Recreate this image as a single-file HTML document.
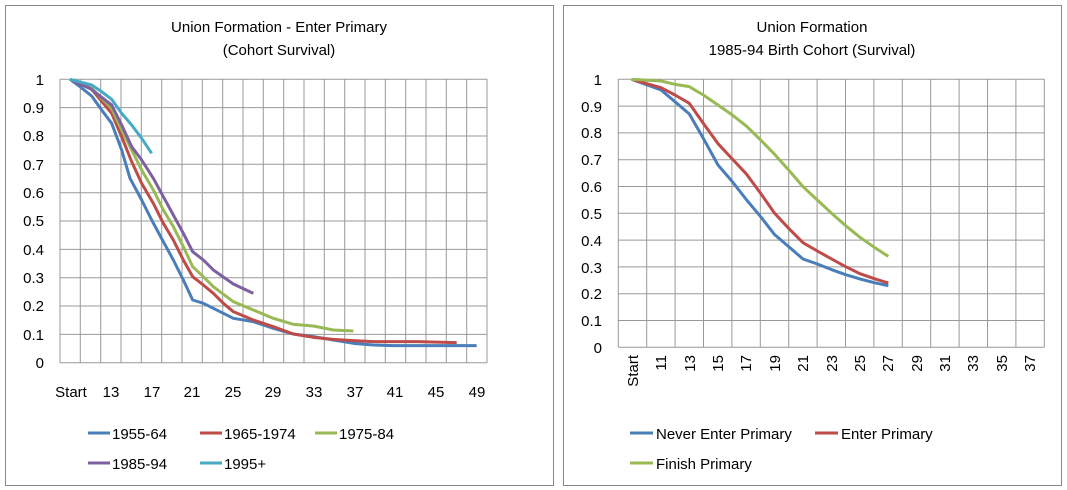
<!DOCTYPE html>
<html><head><meta charset="utf-8"><style>
body{margin:0;background:#fff;}
svg{display:block;font-family:"Liberation Sans",sans-serif;}
</style></head><body>
<svg width="1067" height="490" viewBox="0 0 1067 490">
<rect width="1067" height="490" fill="#fff"/>
<rect x="5.5" y="5.5" width="548" height="480" fill="#fff" stroke="#888"/>
<rect x="563.5" y="5.5" width="498" height="480" fill="#fff" stroke="#888"/>
<g font-size="15" fill="#000" text-anchor="middle">
<text x="279" y="32">Union Formation - Enter Primary</text>
<text x="279" y="55">(Cohort Survival)</text>
<text x="812" y="32">Union Formation</text>
<text x="812" y="55">1985-94 Birth Cohort (Survival)</text>
</g>
<g stroke="#999" stroke-width="1">
<path d="M60 79.3H487M60 107.6H487M60 136H487M60 164.3H487M60 192.7H487M60 221H487M60 249.4H487M60 277.7H487M60 306H487M60 334.4H487M60 362.7H487"/>
<path d="M60 79V363M80.3 79V363M100.7 79V363M121 79V363M141.3 79V363M161.7 79V363M182 79V363M202.3 79V363M222.7 79V363M243 79V363M263.3 79V363M283.7 79V363M304 79V363M324.3 79V363M344.7 79V363M365 79V363M385.3 79V363M405.7 79V363M426 79V363M446.3 79V363M466.7 79V363M487 79V363"/>
</g>
<g font-size="15" text-anchor="end">
<text x="44" y="85">1</text><text x="44" y="113">0.9</text><text x="44" y="141">0.8</text><text x="44" y="170">0.7</text><text x="44" y="198">0.6</text><text x="44" y="226">0.5</text><text x="44" y="255">0.4</text><text x="44" y="283">0.3</text><text x="44" y="311">0.2</text><text x="44" y="340">0.1</text><text x="44" y="368">0</text>
</g>
<g font-size="15" text-anchor="middle">
<text x="71" y="397">Start</text><text x="111" y="397">13</text><text x="152" y="397">17</text><text x="192" y="397">21</text><text x="233" y="397">25</text><text x="273" y="397">29</text><text x="314" y="397">33</text><text x="355" y="397">37</text><text x="395" y="397">41</text><text x="436" y="397">45</text><text x="477" y="397">49</text>
</g>
<g transform="translate(0,60) scale(0.33333)" fill="none" stroke-width="9" stroke-linejoin="round">
<polyline stroke="#4A7EBB" points="210,58 240,80 275,108 305,150 335,190 365,270 390,355 425,420 455,480 490,545 520,600 550,660 578,720 610,730 640,745 700,775 760,785 790,795 820,805 880,822 940,830 1000,840 1060,850 1120,855 1180,857 1430,857"/>
<polyline stroke="#BE4B48" points="210,58 275,88 335,160 365,230 395,305 425,370 460,430 490,490 520,540 550,600 578,650 610,675 640,700 670,730 700,755 760,780 820,800 880,822 940,832 1000,838 1060,842 1120,845 1250,845 1370,848"/>
<polyline stroke="#98B954" points="210,58 275,85 335,145 365,210 395,270 425,330 460,390 490,450 520,500 550,560 578,620 610,650 640,680 700,725 760,750 820,775 880,793 940,798 1000,810 1060,813"/>
<polyline stroke="#7D60A0" points="210,58 270,85 335,135 365,195 395,260 425,300 460,355 490,410 520,465 550,520 578,575 610,600 640,630 700,672 760,700"/>
<polyline stroke="#46AAC5" points="210,58 275,75 305,95 335,118 365,160 395,195 425,235 455,280"/>
</g>
<g stroke-width="3">
<line x1="88" y1="433" x2="110" y2="433" stroke="#4A7EBB"/>
<line x1="200" y1="433" x2="222" y2="433" stroke="#BE4B48"/>
<line x1="315" y1="433" x2="337" y2="433" stroke="#98B954"/>
<line x1="88" y1="463" x2="110" y2="463" stroke="#7D60A0"/>
<line x1="200" y1="463" x2="222" y2="463" stroke="#46AAC5"/>
</g>
<g font-size="15">
<text x="112" y="439">1955-64</text><text x="224" y="439">1965-1974</text><text x="339" y="439">1975-84</text>
<text x="112" y="469">1985-94</text><text x="224" y="469">1995+</text>
</g>
<g stroke="#999" stroke-width="1">
<path d="M618.3 79.3H1044.3M618.3 106.1H1044.3M618.3 132.9H1044.3M618.3 159.7H1044.3M618.3 186.5H1044.3M618.3 213.3H1044.3M618.3 240.1H1044.3M618.3 266.9H1044.3M618.3 293.7H1044.3M618.3 320.5H1044.3M618.3 347.3H1044.3"/>
<path d="M618.3 79V347M646.7 79V347M675.1 79V347M703.5 79V347M731.9 79V347M760.3 79V347M788.7 79V347M817.1 79V347M845.5 79V347M873.9 79V347M902.3 79V347M930.7 79V347M959.1 79V347M987.5 79V347M1015.9 79V347M1044.3 79V347"/>
</g>
<g font-size="15" text-anchor="end">
<text x="602" y="85">1</text><text x="602" y="112">0.9</text><text x="602" y="138">0.8</text><text x="602" y="165">0.7</text><text x="602" y="192">0.6</text><text x="602" y="219">0.5</text><text x="602" y="246">0.4</text><text x="602" y="273">0.3</text><text x="602" y="299">0.2</text><text x="602" y="326">0.1</text><text x="602" y="353">0</text>
</g>
<g font-size="15" text-anchor="end">
<text transform="translate(638,355) rotate(-90)">Start</text>
<text transform="translate(666,355) rotate(-90)">11</text>
<text transform="translate(695,355) rotate(-90)">13</text>
<text transform="translate(723,355) rotate(-90)">15</text>
<text transform="translate(751,355) rotate(-90)">17</text>
<text transform="translate(780,355) rotate(-90)">19</text>
<text transform="translate(808,355) rotate(-90)">21</text>
<text transform="translate(837,355) rotate(-90)">23</text>
<text transform="translate(865,355) rotate(-90)">25</text>
<text transform="translate(893,355) rotate(-90)">27</text>
<text transform="translate(922,355) rotate(-90)">29</text>
<text transform="translate(950,355) rotate(-90)">31</text>
<text transform="translate(978,355) rotate(-90)">33</text>
<text transform="translate(1007,355) rotate(-90)">35</text>
<text transform="translate(1035,355) rotate(-90)">37</text>
</g>
<g transform="translate(560,60) scale(0.33333)" fill="none" stroke-width="9" stroke-linejoin="round">
<polyline stroke="#4A7EBB" points="215,58 303,90 345,125 388,162 430,235 474,315 517,365 560,420 602,470 644,524 686,560 729,597 772,612 815,629 857,644 900,657 943,668 985,677"/>
<polyline stroke="#BE4B48" points="215,58 303,83 345,105 388,130 430,190 474,251 517,297 560,343 602,400 644,460 686,505 729,548 772,573 815,597 857,620 900,641 943,656 985,669"/>
<polyline stroke="#98B954" points="215,58 303,63 345,73 388,80 430,105 474,135 517,165 560,199 602,240 644,283 686,330 729,380 772,420 815,460 857,497 900,532 943,562 985,589"/>
</g>
<g stroke-width="3">
<line x1="630" y1="433" x2="653" y2="433" stroke="#4A7EBB"/>
<line x1="815" y1="433" x2="838" y2="433" stroke="#BE4B48"/>
<line x1="630" y1="463" x2="653" y2="463" stroke="#98B954"/>
</g>
<g font-size="15">
<text x="656" y="439">Never Enter Primary</text><text x="841" y="439">Enter Primary</text>
<text x="656" y="469">Finish Primary</text>
</g>
</svg>
</body></html>
